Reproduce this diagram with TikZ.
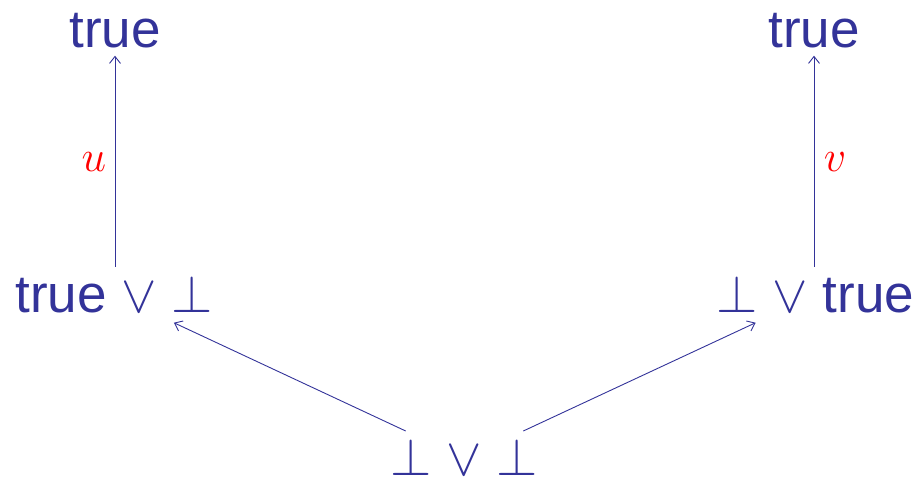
\RequirePackage{fix-cm}
\documentclass[tikz,border=0pt]{standalone}
\usepackage{fontspec}
\setmainfont{Liberation Sans}
\usetikzlibrary{arrows.meta}
\definecolor{struct}{RGB}{51,51,153}
\begin{document}
\begin{tikzpicture}[x=1pt,y=1pt,
  term/.style={text=struct, font=\fontsize{53}{60}\selectfont, inner sep=8pt, anchor=base},
  lab/.style={text=red, font=\fontsize{44}{50}\selectfont, inner sep=0pt},
  arr/.style={draw=struct, line width=0.9pt, -{Straight Barb[length=7pt,width=11pt]}}]
\useasboundingbox (0,0) rectangle (920,-479);
\node[term] (tl) at (115,-47) {true};
\node[term] (tr) at (814,-47) {true};
\node[term] (ml) at (114,-312) {true $\vee$ $\bot$};
\node[term] (mr) at (815.5,-312) {$\bot$ $\vee$ true};
\node[term] (bot) at (464.5,-475) {$\bot$ $\vee$ $\bot$};
\node[lab] (u) at (94,-162) {$u$};
\node[lab] (v) at (835,-162) {$v$};
\coordinate (bs1) at ([xshift=23pt,yshift=-1pt]bot.north west);
\coordinate (bs2) at ([xshift=-23pt,yshift=-1pt]bot.north east);
\coordinate (me1) at ([xshift=-47pt,yshift=-2pt]ml.south east);
\coordinate (me2) at ([xshift=47pt,yshift=-2pt]mr.south west);
\draw[arr] (tl.south |- ml.north) -- (tl.south);
\draw[arr] (tr.south |- mr.north) -- (tr.south);
\draw[arr] (bs1) -- (me1);
\draw[arr] (bs2) -- (me2);
\end{tikzpicture}
\end{document}
